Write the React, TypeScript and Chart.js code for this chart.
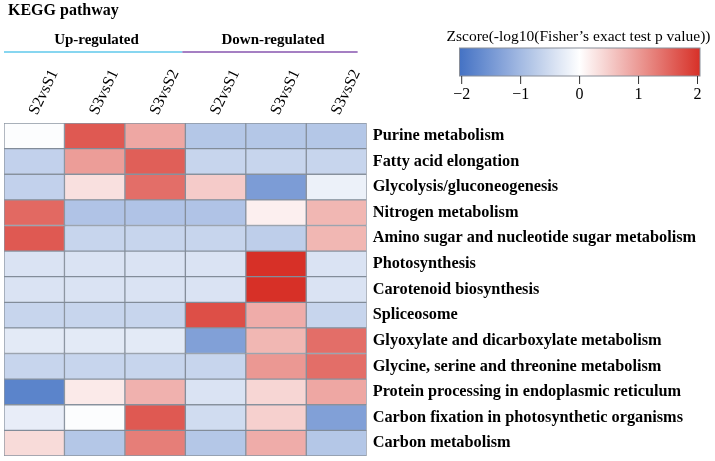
import React, { useEffect, useRef } from "react";
import { Chart, registerables } from "chart.js";

Chart.register(...registerables);

const pathways = [
  "Purine metabolism",
  "Fatty acid elongation",
  "Glycolysis/gluconeogenesis",
  "Nitrogen metabolism",
  "Amino sugar and nucleotide sugar metabolism",
  "Photosynthesis",
  "Carotenoid biosynthesis",
  "Spliceosome",
  "Glyoxylate and dicarboxylate metabolism",
  "Glycine, serine and threonine metabolism",
  "Protein processing in endoplasmic reticulum",
  "Carbon fixation in photosynthetic organisms",
  "Carbon metabolism",
];

const comparisons = ["S2vsS1", "S3vsS1", "S3vsS2", "S2vsS1", "S3vsS1", "S3vsS2"];
const groups = ["Up-regulated", "Down-regulated"];

const upS2vsS1 = [-0.03, -0.65, -0.65, 1.45, 1.6, -0.4, -0.4, -0.6, -0.3, -0.6, -1.75, -0.25, 0.35];
const upS3vsS1 = [1.6, 0.95, 0.3, -0.85, -0.6, -0.4, -0.4, -0.6, -0.3, -0.6, 0.2, -0.03, -0.8];
const upS3vsS2 = [0.85, 1.55, 1.4, -0.85, -0.6, -0.4, -0.4, -0.6, -0.3, -0.6, 0.75, 1.6, 1.25];
const downS2vsS1 = [-0.8, -0.6, 0.5, -0.85, -0.6, -0.4, -0.4, 1.7, -1.35, -0.6, -0.4, -0.5, -0.8];
const downS3vsS1 = [-0.8, -0.6, -1.4, 0.15, -0.7, 2.0, 2.0, 0.8, 0.7, 1.0, 0.4, 0.45, 0.8];
const downS3vsS2 = [-0.8, -0.6, -0.2, 0.7, 0.7, -0.4, -0.4, -0.6, 1.4, 1.4, 0.85, -1.35, -0.8];

const columns = [upS2vsS1, upS3vsS1, upS3vsS2, downS2vsS1, downS3vsS1, downS3vsS2];

const colorbarTicks = [-2, -1, 0, 1, 2];
const colorbarTitle = "Zscore(-log10(Fisher\u2019s exact test p value))";
const chartTitle = "KEGG pathway";

const BLUE = [68, 114, 196];
const RED = [215, 48, 39];

function zColor(v: number): string {
  const t = Math.max(-1, Math.min(1, v / 2));
  const end = t < 0 ? BLUE : RED;
  const a = Math.abs(t);
  const c = end.map((e) => Math.round(255 + (e - 255) * a));
  return `rgb(${c[0]},${c[1]},${c[2]})`;
}

const SERIF = "'Liberation Serif', 'Times New Roman', serif";

const decorPlugin = {
  id: "decor",
  afterDraw(chart: any) {
    const ctx = chart.ctx;
    const area = chart.chartArea;
    const colW = (area.right - area.left) / comparisons.length;
    ctx.save();
    ctx.fillStyle = "#000";
    ctx.textBaseline = "middle";
    ctx.font = `bold 16px ${SERIF}`;
    ctx.textAlign = "left";
    ctx.fillText(chartTitle, 8, 11);
    ctx.font = `bold 15px ${SERIF}`;
    ctx.textAlign = "center";
    ctx.fillText(groups[0], area.left + colW * 1.53, 40);
    ctx.fillText(groups[1], area.left + colW * 4.45, 40);
    ctx.lineWidth = 1.5;
    ctx.strokeStyle = "rgb(95,200,235)";
    ctx.beginPath();
    ctx.moveTo(area.left, 52);
    ctx.lineTo(area.left + colW * 2.95, 52);
    ctx.stroke();
    ctx.strokeStyle = "rgb(135,85,175)";
    ctx.beginPath();
    ctx.moveTo(area.left + colW * 2.95, 52);
    ctx.lineTo(area.left + colW * 5.85, 52);
    ctx.stroke();

    // column labels, placed at the category scale's tick pixels
    const xs = chart.scales.xTop;
    ctx.font = `16px ${SERIF}`;
    ctx.textAlign = "left";
    ctx.textBaseline = "middle";
    comparisons.forEach((lab, i) => {
      const px = xs.getPixelForTick(i);
      ctx.save();
      ctx.translate(px - 1, 114);
      ctx.rotate((-64 * Math.PI) / 180);
      ctx.fillText(lab, 0, 0);
      ctx.restore();
    });

    // colour bar
    const bx0 = 459.5, bx1 = 700, by0 = 48, by1 = 76;
    const grad = ctx.createLinearGradient(bx0, 0, bx1, 0);
    const n = 20;
    for (let i = 0; i <= n; i++) {
      const v = -2 + (4 * i) / n;
      grad.addColorStop(i / n, zColor(v));
    }
    ctx.fillStyle = grad;
    ctx.fillRect(bx0, by0, bx1 - bx0, by1 - by0);
    ctx.strokeStyle = "#8a8f99";
    ctx.lineWidth = 1;
    ctx.strokeRect(bx0, by0, bx1 - bx0, by1 - by0);
    ctx.fillStyle = "#000";
    ctx.font = `15.5px ${SERIF}`;
    ctx.textAlign = "center";
    ctx.fillText(colorbarTitle, 578.5, 37);
    ctx.font = `16px ${SERIF}`;
    const tx0 = 461.7, tx1 = 697.5;
    ctx.strokeStyle = "#333";
    colorbarTicks.forEach((t) => {
      const x = tx0 + ((t + 2) / 4) * (tx1 - tx0);
      ctx.beginPath();
      ctx.moveTo(x, by1);
      ctx.lineTo(x, by1 + 8);
      ctx.stroke();
      const label = t < 0 ? "\u2212" + Math.abs(t) : String(t);
      ctx.fillText(label, x, 95);
    });
    ctx.restore();
  },
};

export default function App() {
  const ref = useRef<HTMLCanvasElement | null>(null);
  useEffect(() => {
    if (!ref.current) return;
    const datasets = columns.map((col, c) => ({
      label: comparisons[c],
      data: col.map(() => [c, c + 1]),
      backgroundColor: col.map((v) => zColor(v)),
      borderColor: "rgba(120,130,145,0.85)",
      borderWidth: 1,
      borderSkipped: false,
      barPercentage: 1,
      categoryPercentage: 1,
      grouped: false,
    }));
    const chart = new Chart(ref.current, {
      type: "bar",
      data: { labels: pathways, datasets: datasets as any },
      plugins: [decorPlugin],
      options: {
        indexAxis: "y",
        animation: false,
        responsive: false,
        maintainAspectRatio: false,
        layout: { padding: { left: 4, top: 0, right: 0, bottom: 5 } },
        plugins: { legend: { display: false }, tooltip: { enabled: false } },
        scales: {
          x: { type: "linear", min: 0, max: 6, display: false },
          xTop: {
            type: "category",
            labels: comparisons,
            position: "top",
            offset: true,
            grid: { display: false, drawTicks: false },
            border: { display: false },
            ticks: { display: false },
            afterFit: (s: any) => {
              s.height = 123;
              s.paddingLeft = 0;
              s.paddingRight = 0;
            },
          },
          y: {
            type: "category",
            position: "right",
            grid: { display: false, drawTicks: false },
            border: { display: false },
            ticks: {
              autoSkip: false,
              padding: 6,
              color: "#000",
              font: { family: SERIF, size: 16.3, weight: "bold" },
            },
            afterFit: (s: any) => {
              s.width = 348.3;
              s.paddingTop = 0;
              s.paddingBottom = 0;
            },
          },
        },
      },
    });
    return () => chart.destroy();
  }, []);
  return (
    <div style={{ position: "fixed", left: 0, top: 0, width: 715, height: 461, background: "#fff" }}>
      <canvas ref={ref} width={715} height={461} style={{ width: 715, height: 461 }} />
    </div>
  );
}
